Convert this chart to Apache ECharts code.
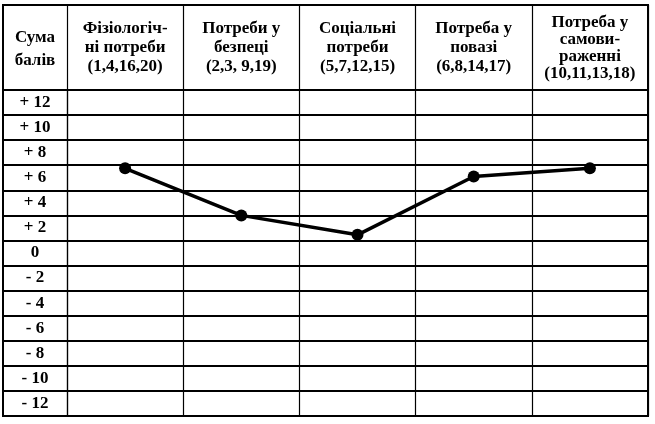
<!DOCTYPE html>
<html>
<head>
<meta charset="utf-8">
<script src="https://cdn.jsdelivr.net/npm/echarts@6/dist/echarts.min.js"></script>
<style>
html,body{margin:0;padding:0;background:#fff;}
#chart{width:655px;height:424px;}
</style>
</head>
<body>
<div id="chart"></div>
<script>
// Column headers (categories)
var headers = [
  'Фізіологіч-\nні потреби\n(1,4,16,20)',
  'Потреби у\nбезпеці\n(2,3, 9,19)',
  'Соціальні\nпотреби\n(5,7,12,15)',
  'Потреба у\nповазі\n(6,8,14,17)',
  'Потреба у\nсамови-\nраженні\n(10,11,13,18)'
];
// Row tick labels (bottom to top)
var rowLabels = ['- 12','- 10','- 8','- 6','- 4','- 2','0','+ 2','+ 4','+ 6','+ 8','+ 10','+ 12'];
// Sum of points per need
var scores = [6.75, 3.0, 1.45, 6.1, 6.75];
var cornerTitle = 'Сума\nбалів';

var FONT = '"Liberation Serif","Times New Roman",serif';

var headerData = headers.map(function (h, i) {
  if (i === headers.length - 1) {
    return { value: h, textStyle: { lineHeight: 17, verticalAlign: 'middle', align: 'center', padding: [0, 0, 13, 0] } };
  }
  return h;
});

var chart = echarts.init(document.getElementById('chart'), null, { renderer: 'canvas' });
chart.setOption({
  animation: false,
  backgroundColor: '#fff',
  grid: [
    { left: 67, top: 90, width: 581, height: 326, show: false, containLabel: false, outerBoundsMode: 'none' },
    { left: 3, top: 5, width: 645, height: 411, show: true, borderColor: '#000', borderWidth: 2, backgroundColor: 'transparent', z: 10, outerBoundsMode: 'none' }
  ],
  xAxis: [
    {
      type: 'category', gridIndex: 0, position: 'top', data: headerData, boundaryGap: true,
      axisLine: { show: true, onZero: false, lineStyle: { color: '#000', width: 2 } },
      axisTick: { show: true, inside: false, length: 85, alignWithLabel: false, lineStyle: { color: '#000', width: 1.2 } },
      axisLabel: { interval: 0, margin: 42, verticalAlign: 'middle', align: 'center', color: '#000', fontFamily: FONT, fontWeight: 'bold', fontSize: 17, lineHeight: 19 },
      splitLine: { show: true, interval: 0, lineStyle: { color: '#000', width: 1.2 } }
    },
    { type: 'category', gridIndex: 1, show: false, data: ['a'] }
  ],
  yAxis: [
    {
      type: 'category', gridIndex: 0, data: rowLabels, boundaryGap: true, position: 'left',
      axisLine: { show: true, onZero: false, lineStyle: { color: '#000', width: 1.2 } },
      axisTick: { show: true, inside: false, length: 64, alignWithLabel: false, interval: 0, lineStyle: { color: '#000', width: 2 } },
      axisLabel: { interval: 0, margin: 32, align: 'center', verticalAlign: 'middle', color: '#000', fontFamily: FONT, fontWeight: 'bold', fontSize: 17 },
      splitLine: { show: true, interval: 0, lineStyle: { color: '#000', width: 2 } }
    },
    { type: 'value', gridIndex: 0, min: -13, max: 13, show: false, splitLine: { show: false } },
    { type: 'value', gridIndex: 1, show: false, splitLine: { show: false } }
  ],
  graphic: [
    {
      type: 'text', x: 35, y: 49, z: 20,
      style: { text: cornerTitle, align: 'center', verticalAlign: 'middle', fill: '#000', font: 'bold 17px ' + FONT, lineHeight: 23 }
    }
  ],
  series: [
    {
      type: 'line', xAxisIndex: 0, yAxisIndex: 1, data: scores,
      symbol: 'circle', symbolSize: 12, z: 5,
      lineStyle: { color: '#000', width: 3.5 },
      itemStyle: { color: '#000' }
    }
  ]
});
</script>
</body>
</html>
